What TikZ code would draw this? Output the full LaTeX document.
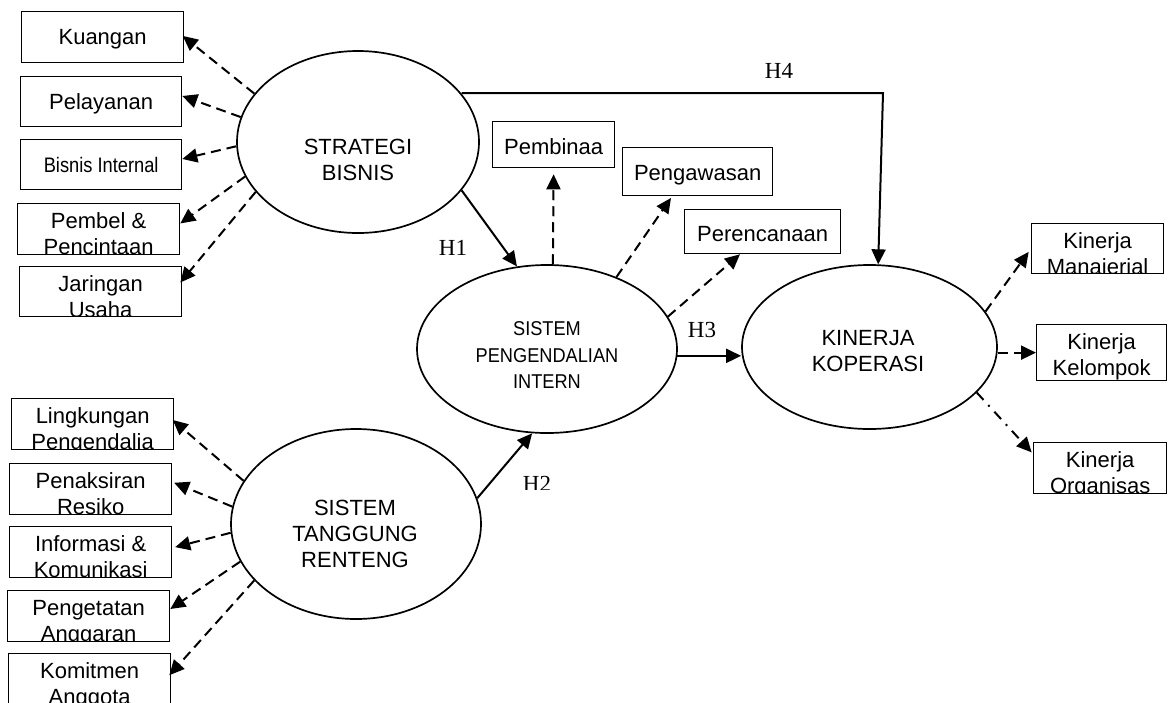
\documentclass[tikz,border=0pt]{standalone}
\usepackage{fontspec}
\setmainfont{Liberation Serif}
\newfontfamily\arial{Liberation Sans}
\usetikzlibrary{shapes.geometric,arrows.meta,calc}
\newcommand\boxfont{\arial\fontsize{22}{26}\selectfont}
\newcommand\onel[2]{\node[btext] (#1a) at ([yshift=-33pt]path picture bounding box.north) {#2};}
\newcommand\twol[3]{\node[btext] (#1a) at ([yshift=-24.5pt]path picture bounding box.north) {#2};
  \node[btext] (#1b) at ([yshift=-50.5pt]path picture bounding box.north) {#3};}
\begin{document}
\begin{tikzpicture}[x=1pt,y=-1pt,
  bx/.style={draw, line width=1.3pt, rectangle, inner sep=0pt, anchor=north west},
  btext/.style={anchor=base, inner sep=0pt, font=\boxfont},
  ell/.style={draw, ellipse, line width=1.7pt, inner sep=0pt},
  etext/.style={inner sep=0pt, align=center, font=\arial\fontsize{22}{26}\selectfont},
  tip/.style={-{Triangle[length=15pt,width=14pt]}},
  dar/.style={tip, line width=2pt, dash pattern=on 10pt off 6pt},
  sar/.style={tip, line width=2pt},
  ddar/.style={tip, line width=2pt, dash pattern=on 10pt off 7pt on 2pt off 7pt},
  hl/.style={inner sep=0pt, anchor=base, font=\fontsize{23}{27}\selectfont},
]
\useasboundingbox (0,0) rectangle (1170,702);

% ellipses
\node[ell, minimum width=242pt, minimum height=182pt] (sb) at (358,142) {};
\node[etext] (sbt) at (358,160) {STRATEGI\\BISNIS};
\node[ell, minimum width=250pt, minimum height=190pt] (tr) at (356,524) {};
\node[etext] (trt) at (355,534) {SISTEM\\TANGGUNG\\RENTENG};
\node[ell, minimum width=260pt, minimum height=168pt] (spi) at (547,349) {};
\node[etext, font=\arial\fontsize{20}{26.5}\selectfont] (spit) at (547,355.5)
  {\scalebox{0.91}[1]{SISTEM}\\\scalebox{0.91}[1]{PENGENDALIAN}\\\scalebox{0.91}[1]{INTERN}};
\node[ell, minimum width=255pt, minimum height=164pt] (kk) at (869.5,347) {};
\node[etext] (kkt) at (868,351.5) {KINERJA\\KOPERASI};

% left top boxes
\node[bx, minimum width=162pt, minimum height=51pt, path picture={\onel{ku}{Kuangan}}] (ku) at (21,11) {};
\node[bx, minimum width=161pt, minimum height=50pt, path picture={\onel{pl}{Pelayanan}}] (pl) at (20,76) {};
\node[bx, minimum width=161pt, minimum height=50pt, path picture={\onel{bi}{\scalebox{0.87}[1]{\fontsize{21}{26}\selectfont Bisnis Internal}}}] (bi) at (20,139) {};
\node[bx, minimum width=162pt, minimum height=51pt, path picture={\twol{pe}{Pembel \&}{Pencintaan}}] (pe) at (17,203) {};
\node[bx, minimum width=162pt, minimum height=50pt, path picture={\twol{ja}{Jaringan}{Usaha}}] (ja) at (19,266) {};

% left bottom boxes
\node[bx, minimum width=162pt, minimum height=51pt, path picture={\twol{li}{Lingkungan}{Pengendalia}}] (li) at (11,398) {};
\node[bx, minimum width=162pt, minimum height=51pt, path picture={\twol{pn}{Penaksiran}{Resiko}}] (pn) at (9,463) {};
\node[bx, minimum width=162pt, minimum height=51pt, path picture={\twol{in}{Informasi \&}{Komunikasi}}] (in) at (9,526) {};
\node[bx, minimum width=162pt, minimum height=51pt, path picture={\twol{pg}{Pengetatan}{Anggaran}}] (pg) at (7,590) {};
\node[bx, minimum width=162pt, minimum height=53pt, path picture={\twol{kt}{Komitmen}{Anggota}}] (kt) at (8,653) {};

% middle boxes
\node[bx, minimum width=122pt, minimum height=46pt, path picture={\onel{pb}{Pembinaa}}] (pb) at (492,121) {};
\node[bx, minimum width=150pt, minimum height=48pt, path picture={\onel{pw}{Pengawasan}}] (pw) at (622,147) {};
\node[bx, minimum width=156pt, minimum height=44pt, path picture={\node[btext] (pra) at ([yshift=-32pt]path picture bounding box.north) {Perencanaan};}] (pr) at (684,209) {};

% right boxes
\node[bx, minimum width=132pt, minimum height=50pt, path picture={\twol{km}{Kinerja}{Manajerial}}] (km) at (1031,223) {};
\node[bx, minimum width=130pt, minimum height=56pt, path picture={\twol{kg}{Kinerja}{Kelompok}}] (kg) at (1036,324) {};
\node[bx, minimum width=133pt, minimum height=51pt, path picture={\twol{ko}{Kinerja}{Organisas}}] (ko) at (1033,442) {};

% indicator arrows, strategi bisnis
\draw[dar, shorten >=-2pt] (sb.155) -- (ku.east);
\draw[dar] (sb.168) -- (pl.4);
\draw[dar] (sb.182) -- (bi.4);
\draw[dar] (sb.197) -- (pe.4);
\draw[dar, shorten >=-3pt] (sb.206) -- (ja.8);

% indicator arrows, tanggung renteng
\draw[dar, shorten >=-2pt] (tr.159) -- (li.2);
\draw[dar, shorten >=2pt] (tr.172) -- (pn.5);
\draw[dar, shorten >=3pt] (tr.184) -- (in.3);
\draw[dar] (tr.198) -- (pg.5);
\draw[dar, shorten >=-3pt] (tr.209) -- (kt.5);

% indicator arrows, pengendalian intern
\draw[dar, shorten >=6pt] (spi.86) -- (pb.south);
\draw[dar, shorten >=2pt] (spi.46) -- (pw.224);
\draw[dar] (spi.15) -- (pr.225);

% indicator arrows, kinerja
\draw[dar, shorten >=4pt] (kk.17) -- (km.west);
\draw[dar] (kk.east |- kg.west) -- (kg.west);
\draw[ddar, shorten >=2pt] (kk.337) -- (ko.168);

% hypotheses
\draw[sar] (sb.335) -- (spi.110);
\draw[sar] (tr.12) -- (spi.260);
\draw[sar] (spi.357) -- (spi.357 -| kk.west);
\coordinate (h4c) at (883,93);
\draw[sar] (sb.25 |- h4c) -- (h4c) -- (kk.84);

\node[hl] (h1) at (453,255) {H1};
\node[hl] (h3) at (702,337) {H3};
\node[hl] (h4) at (779,78) {H4};
\begin{scope}
\clip (500,460) rectangle (580,489);
\node[hl] (h2) at (537,491.5) {H2};
\end{scope}
\end{tikzpicture}
\end{document}
